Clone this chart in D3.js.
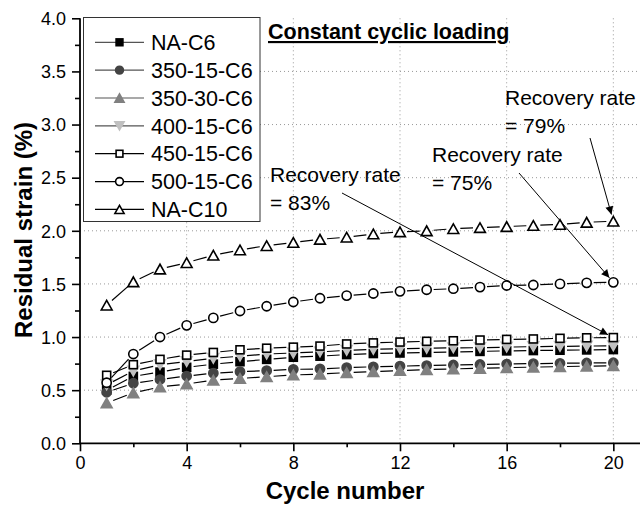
<!DOCTYPE html>
<html><head><meta charset="utf-8">
<script src="https://cdn.jsdelivr.net/npm/d3@7"></script>
<style>body{margin:0;background:#fff}svg{display:block}text{font-family:"Liberation Sans",Arial,sans-serif}</style>
</head><body>
<svg id="c" width="642" height="506"></svg>
<script>
const cycles = d3.range(1, 21);
const seriesNames = ["NA-C6","350-15-C6","350-30-C6","400-15-C6","450-15-C6","500-15-C6","NA-C10"];
const vNAC6   = [0.50,0.63,0.67,0.715,0.745,0.768,0.79,0.81,0.82,0.835,0.845,0.85,0.855,0.86,0.865,0.87,0.873,0.876,0.879,0.882];
const v35015  = [0.48,0.565,0.60,0.633,0.66,0.674,0.684,0.696,0.70,0.712,0.72,0.726,0.732,0.737,0.742,0.746,0.75,0.753,0.756,0.758];
const v35030  = [0.38,0.475,0.53,0.558,0.595,0.61,0.627,0.643,0.652,0.665,0.675,0.685,0.693,0.70,0.706,0.712,0.717,0.722,0.726,0.73];
const v40015  = [0.55,0.68,0.74,0.77,0.80,0.82,0.84,0.85,0.86,0.875,0.885,0.89,0.895,0.898,0.90,0.905,0.91,0.912,0.915,0.918];
const v45015  = [0.64,0.74,0.79,0.83,0.855,0.88,0.895,0.905,0.915,0.935,0.945,0.953,0.96,0.965,0.972,0.978,0.982,0.988,0.993,0.995];
const v50015  = [0.57,0.84,1.00,1.11,1.18,1.245,1.29,1.33,1.365,1.39,1.41,1.43,1.445,1.455,1.47,1.485,1.49,1.50,1.51,1.515];
const vNAC10  = [1.30,1.52,1.64,1.70,1.77,1.82,1.86,1.89,1.92,1.94,1.97,1.99,2.00,2.02,2.03,2.04,2.05,2.06,2.08,2.09];
const xTicks = [0,4,8,12,16,20];
const yTicks = [0,0.5,1,1.5,2,2.5,3,3.5,4];
const annotations = [
  {l1:"Recovery rate", l2:"= 79%", series:6, value:2.09},
  {l1:"Recovery rate", l2:"= 75%", series:5, value:1.515},
  {l1:"Recovery rate", l2:"= 83%", series:4, value:0.995}
];

const values = [vNAC6,v35015,v35030,v40015,v45015,v50015,vNAC10];
const styles = [
  {type:"square", fill:"#000", stroke:"#000", lc:"#555"},
  {type:"circle", fill:"#444", stroke:"#444", lc:"#555"},
  {type:"tri", fill:"#808080", stroke:"#808080", lc:"#555"},
  {type:"dtri", fill:"#c0c0c0", stroke:"#c0c0c0", lc:"#555"},
  {type:"square", fill:"#fff", stroke:"#000", lc:"#000"},
  {type:"circle", fill:"#fff", stroke:"#000", lc:"#000"},
  {type:"tri", fill:"#fff", stroke:"#000", lc:"#000"}
];

const svg = d3.select("#c");
const x = d3.scaleLinear().domain([0,21]).range([80,640]);
const y = d3.scaleLinear().domain([0,4]).range([443.3,18.3]);

// grid
const g = svg.append("g");
g.selectAll(".gy").data(yTicks.filter(d=>d>0&&d<4)).join("line")
  .attr("x1",x(0)).attr("x2",x(21)).attr("y1",d=>y(d)).attr("y2",d=>y(d))
  .attr("stroke","#999").attr("stroke-width",1).attr("stroke-dasharray","1,3");
g.selectAll(".gx").data(xTicks.filter(d=>d>0)).join("line")
  .attr("x1",d=>x(d)).attr("x2",d=>x(d)).attr("y1",y(0)).attr("y2",y(4))
  .attr("stroke","#999").attr("stroke-width",1).attr("stroke-dasharray","1,3");

function marker(sel, type, cx, cy, fill, stroke, s) {
  s = s || 1;
  if (type==="square") {
    const h=4*s; sel.append("rect").attr("x",cx-h).attr("y",cy-h).attr("width",2*h).attr("height",2*h)
      .attr("fill",fill).attr("stroke",stroke).attr("stroke-width",1.6);
  } else if (type==="circle") {
    sel.append("circle").attr("cx",cx).attr("cy",cy).attr("r",4.6*s)
      .attr("fill",fill).attr("stroke",stroke).attr("stroke-width",1.6);
  } else {
    const w=5.4*s, h=4.8*s, d = type==="tri"?1:-1;
    sel.append("path").attr("d",`M${cx},${cy-d*h}L${cx+w},${cy+d*h}L${cx-w},${cy+d*h}Z`)
      .attr("fill",fill).attr("stroke",stroke).attr("stroke-width",1.6).attr("stroke-linejoin","miter");
  }
}

// series
values.forEach((vals,i)=>{
  const st = styles[i];
  const sg = svg.append("g");
  const pts = vals.map((v,j)=>[x(cycles[j]), y(v)]);
  const gap = 7;
  for (let j=0;j<pts.length-1;j++){
    const [x1,y1]=pts[j],[x2,y2]=pts[j+1];
    const L=Math.hypot(x2-x1,y2-y1); if (L<2*gap) continue;
    const ux=(x2-x1)/L, uy=(y2-y1)/L;
    sg.append("line").attr("x1",x1+ux*gap).attr("y1",y1+uy*gap).attr("x2",x2-ux*gap).attr("y2",y2-uy*gap)
      .attr("stroke","#000").attr("stroke-width",1.2);
  }
  pts.forEach(p=>marker(sg, st.type, p[0], p[1], st.fill, st.stroke));
});

// axes
const xAxis = d3.axisBottom(x).tickValues(d3.range(0,21,2)).tickSize(8).tickFormat(d=> xTicks.includes(d)? d3.format("d")(d):"");
const ax = svg.append("g").attr("transform",`translate(0,${y(0)})`).call(xAxis);
ax.select(".domain").attr("d",`M${x(0)},0H${x(21)}`).attr("stroke-width",1.8);
ax.selectAll(".tick line").attr("stroke-width",1.6).attr("y2",d=>xTicks.includes(d)?8:4);
ax.selectAll(".tick text").attr("font-size",18).attr("dy","0.9em").attr("fill","#000").attr("y",10);
const yAxis = d3.axisLeft(y).tickValues(d3.range(0,4.01,0.25)).tickSize(8).tickFormat(d=> (Math.round(d*100)%50===0)? d3.format(".1f")(d):"");
const ay = svg.append("g").attr("transform",`translate(${x(0)},0)`).call(yAxis);
ay.select(".domain").attr("d",`M0,${y(0)}V${y(4)}`).attr("stroke-width",1.8);
ay.selectAll(".tick line").attr("stroke-width",1.6).attr("x2",d=>(Math.round(d*100)%50===0)?-8:-5);
ay.selectAll(".tick text").attr("font-size",18).attr("fill","#000").attr("x",-14).attr("dy","0.35em");
ax.attr("font-family",null); ay.attr("font-family",null);

// axis titles
svg.append("text").attr("x",345).attr("y",499).attr("text-anchor","middle").attr("font-size",24).attr("font-weight","bold").text("Cycle number");
svg.append("text").attr("transform","translate(32,230) rotate(-90)").attr("text-anchor","middle").attr("font-size",24).attr("font-weight","bold").text("Residual strain (%)");

// title
svg.append("text").attr("x",268).attr("y",39).attr("font-size",21.5).attr("font-weight","bold")
  .attr("text-decoration","underline").text("Constant cyclic loading");

// legend
const lg = svg.append("g");
lg.append("rect").attr("x",83.5).attr("y",17.5).attr("width",176.5).attr("height",204).attr("fill","#fff").attr("stroke","#333").attr("stroke-width",1);
seriesNames.forEach((n,i)=>{
  const ly = 42.3 + i*27.85, st=styles[i];
  lg.append("line").attr("x1",95).attr("x2",144).attr("y1",ly).attr("y2",ly).attr("stroke",st.lc).attr("stroke-width",1.2);
  marker(lg, st.type, 119.5, ly, st.fill, st.stroke, 0.85);
  lg.append("text").attr("x",151).attr("y",ly).attr("dy","0.36em").attr("font-size",21.5).text(n);
});

// annotations
const defs = svg.append("defs");
defs.append("marker").attr("id","ah").attr("viewBox","0 0 10 10").attr("refX",10).attr("refY",5)
  .attr("markerWidth",14).attr("markerHeight",8).attr("markerUnits","userSpaceOnUse").attr("orient","auto")
  .append("path").attr("d","M0,0L10,5L0,10Z").attr("fill","#000");
const annPos = [{tx:505,ty:105,sx:590,sy:138,off:7},{tx:432,ty:162,sx:519,sy:173,off:6},{tx:270,ty:182,sx:342,sy:193,off:6}];
annotations.forEach((a,i)=>{
  const p = annPos[i];
  svg.append("text").attr("x",p.tx).attr("y",p.ty).attr("font-size",21).text(a.l1);
  svg.append("text").attr("x",p.tx).attr("y",p.ty+28).attr("font-size",21).text(a.l2);
  const ex = x(20), ey = y(a.value);
  const L = Math.hypot(ex-p.sx, ey-p.sy), ux=(ex-p.sx)/L, uy=(ey-p.sy)/L;
  svg.append("line").attr("x1",p.sx).attr("y1",p.sy).attr("x2",ex-ux*p.off).attr("y2",ey-uy*p.off)
    .attr("stroke","#000").attr("stroke-width",1).attr("marker-end","url(#ah)");
});
</script>
</body></html>
